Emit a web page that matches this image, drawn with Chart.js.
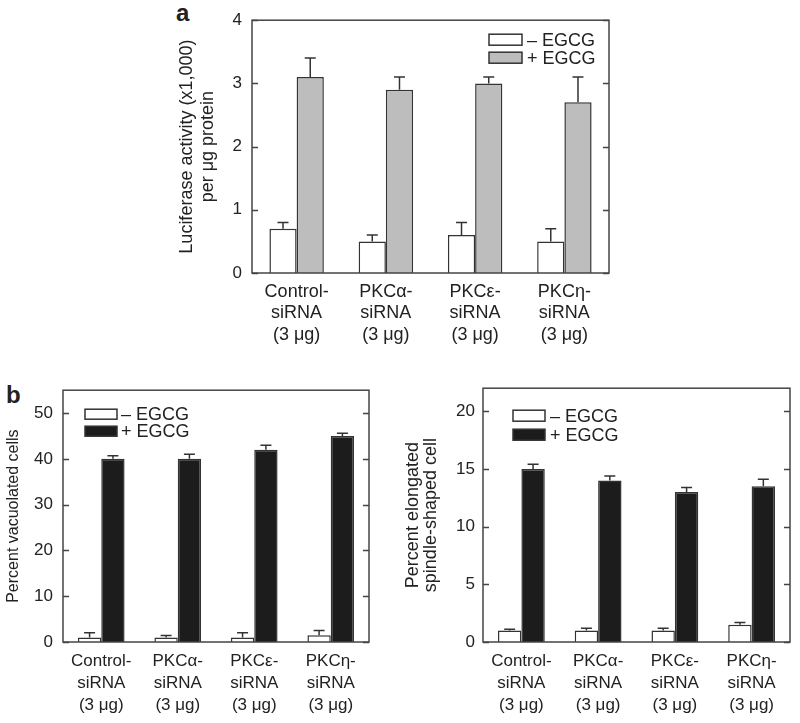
<!DOCTYPE html>
<html>
<head>
<meta charset="utf-8">
<script src="https://cdn.jsdelivr.net/npm/chart.js@4.4.0/dist/chart.umd.min.js"></script>
<style>
  body { margin: 0; background: #fff; }
  #page { position: relative; width: 800px; height: 723px; font-family: "Liberation Sans", Arial, sans-serif; color: #222; }
  .box { position: absolute; }
  .tag { position: absolute; font-weight: bold; font-size: 24px; line-height: 24px; }
</style>
</head>
<body>
<div id="page">
  <div class="tag" style="left:176px;top:1px">a</div>
  <div class="tag" style="left:6px;top:383px">b</div>
  <div class="box" style="left:160px;top:0;width:460px;height:350px"><canvas id="chartA"></canvas></div>
  <div class="box" style="left:0;top:370px;width:380px;height:353px"><canvas id="chartB1"></canvas></div>
  <div class="box" style="left:400px;top:370px;width:400px;height:353px"><canvas id="chartB2"></canvas></div>
</div>
<script>
// categories shared by all three panels
var categories = [
  ['Control-', 'siRNA', '(3 \u03bcg)'],
  ['PKC\u03b1-', 'siRNA', '(3 \u03bcg)'],
  ['PKC\u03b5-', 'siRNA', '(3 \u03bcg)'],
  ['PKC\u03b7-', 'siRNA', '(3 \u03bcg)']
];
var seriesLabels = ['\u2013 EGCG', '+ EGCG'];

// panel a - luciferase
var lucMinus = [0.7, 0.5, 0.6, 0.5];
var lucMinusErr = [0.1, 0.1, 0.2, 0.2];
var lucPlus = [3.1, 2.9, 3.0, 2.7];
var lucPlusErr = [0.3, 0.2, 0.1, 0.4];
var lucTicks = [0, 1, 2, 3, 4];

// panel b left - vacuolated cells
var vacMinus = [1, 1, 1, 1.5];
var vacMinusErr = [1, 0.4, 1, 1];
var vacPlus = [40, 40, 42, 45];
var vacPlusErr = [0.7, 1, 1, 0.6];
var vacTicks = [0, 10, 20, 30, 40, 50];

// panel b right - spindle-shaped cells
var spMinus = [1, 1, 1, 1.5];
var spMinusErr = [0.1, 0.2, 0.2, 0.2];
var spPlus = [15, 14, 13, 13.5];
var spPlusErr = [0.4, 0.4, 0.4, 0.6];
var spTicks = [0, 5, 10, 15, 20];

var FONT = '"Liberation Sans", Arial, sans-serif';
var INK = '#222';
var LINE = '#444';
Chart.defaults.font.family = FONT;
Chart.defaults.color = INK;

// frame + inward ticks on both sides
var frame = {
  id: 'frame',
  afterDraw: function(chart) {
    var ctx = chart.ctx, a = chart.chartArea, y = chart.scales.y;
    ctx.save();
    ctx.strokeStyle = LINE;
    ctx.lineWidth = 1.5;
    ctx.strokeRect(a.left, a.top, a.right - a.left, a.bottom - a.top);
    ctx.beginPath();
    y.ticks.forEach(function(t) {
      var py = Math.round(y.getPixelForValue(t.value)) + 0.5;
      ctx.moveTo(a.left, py); ctx.lineTo(a.left + 6, py);
      ctx.moveTo(a.right - 6, py); ctx.lineTo(a.right, py);
    });
    ctx.stroke();
    ctx.restore();
  }
};

// upward error bars
var errBars = {
  id: 'errBars',
  afterDatasetsDraw: function(chart) {
    var ctx = chart.ctx, y = chart.scales.y;
    ctx.save();
    ctx.strokeStyle = '#333';
    ctx.lineWidth = 1.5;
    chart.data.datasets.forEach(function(ds, i) {
      chart.getDatasetMeta(i).data.forEach(function(bar, j) {
        var top = y.getPixelForValue(ds.data[j] + ds.errors[j]);
        ctx.beginPath();
        ctx.moveTo(bar.x, bar.y);
        ctx.lineTo(bar.x, top);
        ctx.moveTo(bar.x - 5.5, top);
        ctx.lineTo(bar.x + 5.5, top);
        ctx.stroke();
      });
    });
    ctx.restore();
  }
};

// legend drawn inside the plot
var boxLegend = {
  id: 'boxLegend',
  afterDraw: function(chart, args, o) {
    var ctx = chart.ctx, a = chart.chartArea;
    ctx.save();
    ctx.font = '18px ' + FONT;
    ctx.textBaseline = 'middle';
    chart.data.datasets.forEach(function(ds, i) {
      var x = a.left + o.x, y = a.top + o.y + i * o.step;
      ctx.fillStyle = ds.backgroundColor;
      ctx.fillRect(x, y, o.w, o.h);
      ctx.strokeStyle = '#333';
      ctx.lineWidth = 1.5;
      ctx.strokeRect(x, y, o.w, o.h);
      ctx.fillStyle = INK;
      ctx.fillText(ds.label, a.left + o.textX, y + o.h / 2 + 1);
    });
    ctx.restore();
  }
};

function makeChart(id, p) {
  var ctx = document.getElementById(id).getContext('2d');
  return new Chart(ctx, {
    type: 'bar',
    data: {
      labels: categories,
      datasets: [
        { label: seriesLabels[0], data: p.minus, errors: p.minusErr, backgroundColor: '#ffffff', borderColor: '#333', borderWidth: 1.5 },
        { label: seriesLabels[1], data: p.plus, errors: p.plusErr, backgroundColor: p.fill, borderColor: '#333', borderWidth: 1.5 }
      ]
    },
    options: {
      responsive: true,
      maintainAspectRatio: false,
      animation: false,
      layout: { padding: p.pad },
      datasets: { bar: { barPercentage: 1, categoryPercentage: 0.61 } },
      scales: {
        x: {
          grid: { display: false, drawTicks: false },
          border: { display: false },
          ticks: { padding: 8, font: { size: p.catSize, lineHeight: p.catLine }, color: INK, maxRotation: 0, autoSkip: false },
          afterFit: function(s) { s.height = p.xH; }
        },
        y: {
          min: 0,
          max: p.max,
          grid: { display: false, drawTicks: false },
          border: { display: false },
          ticks: { padding: p.tickPad, font: { size: 17 }, color: INK },
          afterBuildTicks: function(s) { s.ticks = p.ticks.map(function(v) { return { value: v }; }); },
          title: { display: true, text: p.title, color: INK, font: { size: p.titleSize, lineHeight: p.titleLine }, padding: { top: p.titlePad, bottom: 0 } },
          afterFit: function(s) { s.width = p.yW; }
        }
      },
      plugins: {
        legend: { display: false },
        tooltip: { enabled: false },
        boxLegend: p.legend
      }
    },
    plugins: [frame, errBars, boxLegend]
  });
}

makeChart('chartA', {
  minus: lucMinus, minusErr: lucMinusErr, plus: lucPlus, plusErr: lucPlusErr,
  fill: '#bdbdbd', max: 4, ticks: lucTicks,
  pad: { top: 16, right: 11, left: 0, bottom: 0 },
  yW: 92, xH: 77, tickPad: 10, catSize: 18, catLine: 1.2,
  title: ['Luciferase activity (x1,000)', 'per \u03bcg protein'], titleSize: 18, titleLine: 1.2, titlePad: 16,
  legend: { x: 237, y: 14, w: 33, h: 11, step: 18, textX: 275 }
});

makeChart('chartB1', {
  minus: vacMinus, minusErr: vacMinusErr, plus: vacPlus, plusErr: vacPlusErr,
  fill: '#1c1c1c', max: 55, ticks: vacTicks,
  pad: { top: 17, right: 11, left: 0, bottom: 0 },
  yW: 63, xH: 81, tickPad: 10, catSize: 17, catLine: 1.3,
  title: 'Percent vacuolated cells', titleSize: 16, titleLine: 1.2, titlePad: 4,
  legend: { x: 22, y: 19, w: 32, h: 10, step: 17, textX: 58 }
});

makeChart('chartB2', {
  minus: spMinus, minusErr: spMinusErr, plus: spPlus, plusErr: spPlusErr,
  fill: '#1c1c1c', max: 22, ticks: spTicks,
  pad: { top: 17, right: 10, left: 0, bottom: 0 },
  yW: 83, xH: 81, tickPad: 8, catSize: 17, catLine: 1.3,
  title: ['Percent elongated', 'spindle-shaped cell'], titleSize: 18, titleLine: 1.0, titlePad: 4,
  legend: { x: 30, y: 22, w: 32, h: 11, step: 19, textX: 67 }
});
</script>
</body>
</html>
